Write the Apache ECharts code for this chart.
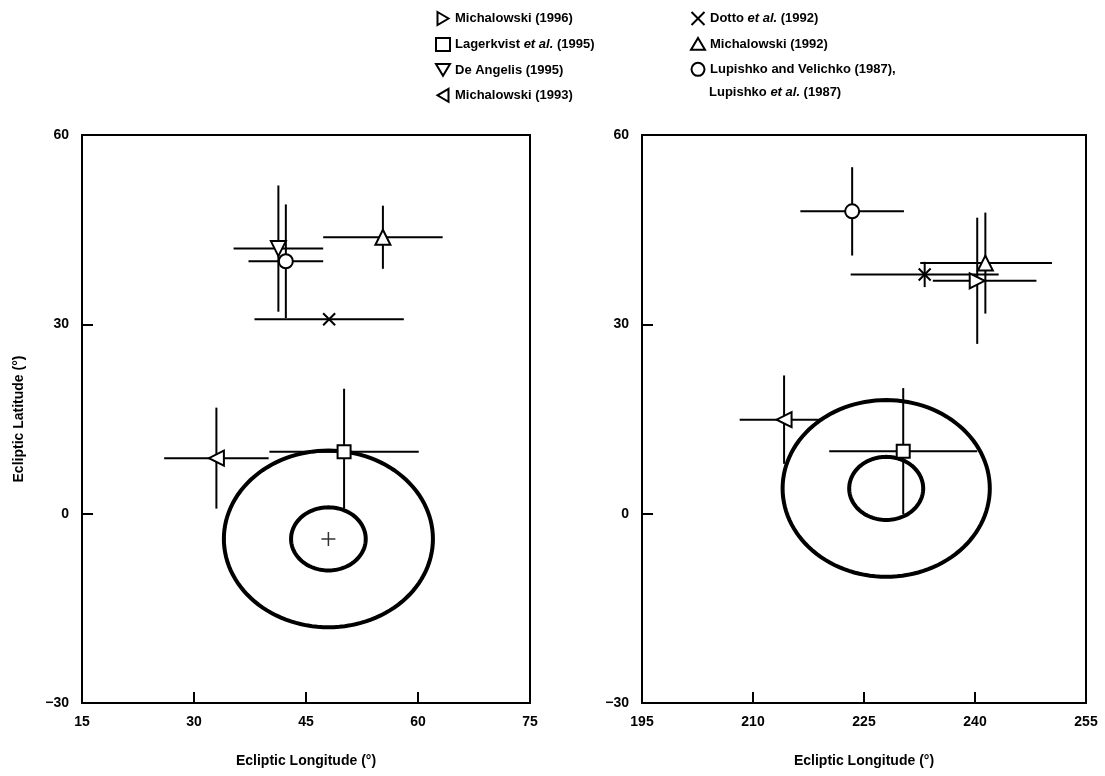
<!DOCTYPE html>
<html>
<head>
<meta charset="utf-8">
<script src="https://cdn.jsdelivr.net/npm/echarts@6/dist/echarts.min.js"></script>
<style>
html,body{margin:0;padding:0;background:#fff;}
#chart{width:1105px;height:776px;}
</style>
</head>
<body>
<div id="chart"></div>
<script>
// ---- data ----
const seriesNames = [
  'Michalowski (1996)',
  'Lagerkvist et al. (1995)',
  'De Angelis (1995)',
  'Michalowski (1993)',
  'Dotto et al. (1992)',
  'Michalowski (1992)',
  'Lupishko and Velichko (1987),'
];
const legendSecondLine = 'Lupishko et al. (1987)';
// left panel (longitude 15-75)
const leftLon      = [null, 50.1, 41.3, 33.0, 48.1, 55.3, 42.3];
const leftLat      = [null, 9.8, 42.0, 8.8, 30.8, 43.8, 40.0];
const leftLonMinus = [null, 10, 6, 7, 10, 8, 5];
const leftLonPlus  = [null, 10, 6, 7, 10, 8, 5];
const leftLatMinus = [null, 9, 10, 8, 0, 5, 9];
const leftLatPlus  = [null, 10, 10, 8, 0, 5, 9];
// right panel (longitude 195-255)
const rightLon      = [240.3, 230.3, null, 214.2, 233.2, 241.4, 223.4];
const rightLat      = [36.9, 9.9, null, 14.9, 37.9, 39.7, 47.9];
const rightLonMinus = [6, 10, null, 6, 10, 8.8, 7];
const rightLonPlus  = [8, 10, null, 5, 10, 9, 7];
const rightLatMinus = [10, 10, null, 7, 2, 8, 7];
const rightLatPlus  = [10, 10, null, 7, 2, 8, 7];
// pole solution circles: [lon, lat, radius]
const leftCircles  = [[48, -4, 5], [48, -4, 14]];
const rightCircles = [[228, 4, 5], [228, 4, 14]];
const leftCenter   = [[48, -4]];
// axes
const leftXTicks  = [15, 75, 15];
const rightXTicks = [195, 255, 15];
const yTicks      = [-30, 60, 30];

// ---- styling ----
const FONT = "'Liberation Sans', Arial, Helvetica, sans-serif";
const symbols = [
  'path://M0,0L11,6.5L0,13Z',        // right-pointing triangle
  'rect',
  'path://M0,0L13,0L6.5,11Z',        // down-pointing triangle
  'path://M11,0L0,6.5L11,13Z',       // left-pointing triangle
  'path://M0,0L10,10M10,0L0,10',     // cross
  'path://M6.5,0L13,11L0,11Z',       // up-pointing triangle
  'circle'
];
const sizes = [15, 13, 15, 15, 12, 15, 14];

const richText = {
  n: {fontFamily: FONT, fontWeight: 'bold', fontSize: 13, color: '#000'},
  i: {fontFamily: FONT, fontWeight: 'bold', fontStyle: 'italic', fontSize: 13, color: '#000'}
};
function fmtName(name) {
  const k = name.indexOf('et al.');
  if (k < 0) return '{n|' + name + '}';
  return '{n|' + name.slice(0, k) + '}{i|et al.}{n|' + name.slice(k + 6) + '}';
}

function errData(lon, lat, lm, lp, bm, bp) {
  const out = [];
  for (let i = 0; i < lon.length; i++) {
    if (lon[i] == null) continue;
    out.push([lon[i], lat[i], lm[i], lp[i], bm[i], bp[i]]);
  }
  return out;
}
function errSeries(idx, data) {
  return {
    type: 'custom', xAxisIndex: idx, yAxisIndex: idx, z: 3, silent: true,
    encode: {x: 0, y: 1},
    data: data,
    renderItem: function (params, api) {
      const x = api.value(0), y = api.value(1);
      const l = api.coord([x - api.value(2), y]), r = api.coord([x + api.value(3), y]);
      const b = api.coord([x, y - api.value(4)]), t = api.coord([x, y + api.value(5)]);
      const st = {stroke: '#000', lineWidth: 2};
      return {type: 'group', children: [
        {type: 'line', shape: {x1: l[0], y1: l[1], x2: r[0], y2: r[1]}, style: st},
        {type: 'line', shape: {x1: b[0], y1: b[1], x2: t[0], y2: t[1]}, style: st}
      ]};
    }
  };
}
function circleSeries(idx, data) {
  return {
    type: 'custom', xAxisIndex: idx, yAxisIndex: idx, z: 2, silent: true,
    encode: {x: 0, y: 1},
    data: data,
    renderItem: function (params, api) {
      const cx = api.value(0), cy = api.value(1), rr = api.value(2);
      const pts = [];
      for (let k = 0; k < 120; k++) {
        const a = k / 120 * Math.PI * 2;
        pts.push(api.coord([cx + rr * Math.cos(a), cy + rr * Math.sin(a)]));
      }
      return {type: 'polygon', shape: {points: pts}, style: {fill: 'none', stroke: '#000', lineWidth: 4}};
    }
  };
}

const series = [];
series.push(circleSeries(0, leftCircles));
series.push(circleSeries(1, rightCircles));
series.push(errSeries(0, errData(leftLon, leftLat, leftLonMinus, leftLonPlus, leftLatMinus, leftLatPlus)));
series.push(errSeries(1, errData(rightLon, rightLat, rightLonMinus, rightLonPlus, rightLatMinus, rightLatPlus)));
series.push({
  type: 'scatter', xAxisIndex: 0, yAxisIndex: 0, z: 4, silent: true,
  symbol: 'path://M5,0L5,10M0,5L10,5', symbolSize: 14,
  itemStyle: {color: 'none', borderColor: '#000', borderWidth: 1.5},
  data: leftCenter
});
seriesNames.forEach((name, i) => {
  const common = {
    type: 'scatter', name: name, z: 5, silent: true,
    symbol: symbols[i], symbolSize: sizes[i],
    itemStyle: {color: '#fff', borderColor: '#000', borderWidth: 2, opacity: 1}
  };
  if (leftLon[i] != null) series.push(Object.assign({}, common, {xAxisIndex: 0, yAxisIndex: 0, data: [[leftLon[i], leftLat[i]]]}));
  if (rightLon[i] != null) series.push(Object.assign({}, common, {xAxisIndex: 1, yAxisIndex: 1, data: [[rightLon[i], rightLat[i]]]}));
});

const axisFont = {fontFamily: FONT, fontWeight: 'bold', fontSize: 14, color: '#000'};
function xAxisDef(idx, t) {
  return {
    type: 'value', gridIndex: idx, min: t[0], max: t[1], interval: t[2],
    name: 'Ecliptic Longitude (°)', nameLocation: 'middle', nameGap: 51,
    nameTextStyle: axisFont,
    axisLine: {onZero: false, lineStyle: {color: '#000', width: 2}},
    axisTick: {inside: true, length: 11, lineStyle: {color: '#000', width: 2}},
    axisLabel: Object.assign({margin: 12}, axisFont),
    splitLine: {show: false}
  };
}
function yAxisDef(idx, t, withName) {
  return {
    type: 'value', gridIndex: idx, min: t[0], max: t[1], interval: t[2],
    name: withName ? 'Ecliptic Latitude (°)' : '', nameLocation: 'middle', nameGap: 56, nameRotate: 90,
    nameTextStyle: axisFont,
    axisLine: {onZero: false, lineStyle: {color: '#000', width: 2}},
    axisTick: {inside: true, length: 11, lineStyle: {color: '#000', width: 2}},
    axisLabel: Object.assign({margin: 13, formatter: v => String(v).replace('-', '\u2212')}, axisFont),
    splitLine: {show: false}
  };
}

const legendCommon = {
  orient: 'vertical', itemWidth: 14, itemHeight: 13, itemGap: 11,
  selectedMode: false, inactiveColor: '#000',
  formatter: fmtName,
  textStyle: {rich: richText, fontFamily: FONT, fontWeight: 'bold', fontSize: 13, color: '#000'}
};

const chart = echarts.init(document.getElementById('chart'), null, {renderer: 'canvas'});
chart.setOption({
  animation: false,
  backgroundColor: '#fff',
  legend: [
    Object.assign({left: 430, top: 6, data: seriesNames.slice(0, 4)}, legendCommon),
    Object.assign({left: 685, top: 6, data: seriesNames.slice(4)}, legendCommon)
  ],
  graphic: [{
    type: 'text', left: 709, top: 86, silent: true,
    style: {text: fmtName(legendSecondLine), rich: richText}
  }],
  grid: [
    {left: 82, top: 135, width: 448, height: 568, show: true, borderColor: '#000', borderWidth: 2},
    {left: 642, top: 135, width: 444, height: 568, show: true, borderColor: '#000', borderWidth: 2}
  ],
  xAxis: [xAxisDef(0, leftXTicks), xAxisDef(1, rightXTicks)],
  yAxis: [yAxisDef(0, yTicks, true), yAxisDef(1, yTicks, false)],
  series: series
});
</script>
</body>
</html>
